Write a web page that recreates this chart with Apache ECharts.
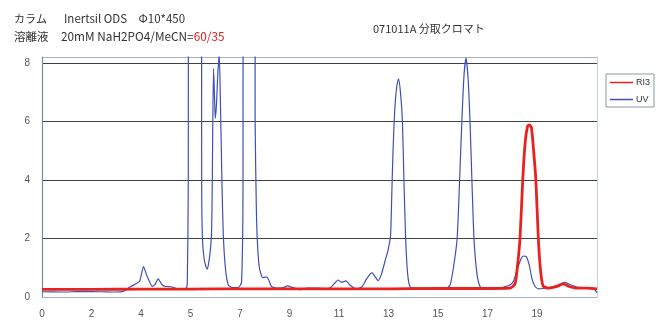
<!DOCTYPE html>
<html>
<head>
<meta charset="utf-8">
<script src="https://cdn.jsdelivr.net/npm/echarts@6/dist/echarts.min.js"></script>
<style>
html,body{margin:0;padding:0;background:#fff;}
#chart{width:664px;height:326px;}
</style>
</head>
<body>
<div id="chart"></div>
<script>
// x positions are in axis units (one unit = half a label step)
var xTickLabels = ["0","2","4","5","7","9","11","13","15","17","19"];
var yTicks = [0, 2, 4, 6, 8];

var uvTime = [0, 0.8, 1.6, 2.4, 3.0, 3.3, 3.56, 3.8, 3.95, 4.10, 4.25, 4.46, 4.58, 4.69, 4.85, 5.0, 5.21, 5.49, 5.82, 5.87,
  5.91, 5.95, 6.40, 6.45, 6.48, 6.55, 6.62, 6.68, 6.74, 6.80, 6.85, 6.88, 6.90, 6.93, 6.97, 7.00, 7.05, 7.10, 7.16, 7.20, 7.24, 7.28, 7.33, 7.42, 7.53, 7.70, 7.92, 8.06,
  8.12, 8.16, 8.56, 8.61, 8.66, 8.70, 8.78, 8.92, 9.07, 9.15, 9.27, 9.5, 9.75, 9.92, 10.1, 10.42, 10.7, 11.1, 11.5, 11.64, 11.8, 11.96, 12.1, 12.28, 12.45, 12.69, 12.93,
  13.1, 13.33, 13.45, 13.58, 13.72, 13.88, 13.98, 14.08, 14.13, 14.18, 14.25, 14.33, 14.40, 14.48, 14.56, 14.62, 14.69, 14.77, 14.87, 15.1, 15.6, 16.0, 16.28, 16.48,
  16.62, 16.77, 16.87, 16.96, 17.05, 17.13, 17.21, 17.29, 17.37, 17.45, 17.57, 17.70, 17.9, 18.22, 18.6, 18.89, 19.05, 19.2, 19.35, 19.45, 19.56, 19.68, 19.8, 19.92,
  20.05, 20.3, 20.7, 20.95, 21.13, 21.35, 21.6, 21.9, 22.2, 22.33, 22.42];
var uvSignal = [0.18, 0.17, 0.19, 0.18, 0.17, 0.2, 0.35, 0.45, 0.55, 1.04, 0.7, 0.36, 0.45, 0.62, 0.42, 0.36, 0.35, 0.28, 0.3, 0.5,
  4, 60, 60, 4, 2.0, 1.3, 1.05, 0.95, 1.2, 1.6, 2.2, 4.0, 6.0, 7.8, 6.8, 6.1, 6.6, 7.6, 8.3, 7.0, 5.2, 3.5, 2.0, 0.9, 0.4, 0.32, 0.32, 0.5,
  4, 60, 60, 6, 3.0, 1.9, 1.0, 0.66, 0.69, 0.6, 0.36, 0.3, 0.32, 0.38, 0.33, 0.25, 0.3, 0.3, 0.29, 0.32, 0.45, 0.58, 0.5, 0.55, 0.4, 0.27, 0.35,
  0.6, 0.83, 0.7, 0.56, 0.8, 1.3, 1.6, 2.1, 3.5, 5.0, 6.4, 7.2, 7.45, 7.0, 6.0, 4.0, 2.0, 0.8, 0.35, 0.3, 0.3, 0.3, 0.27, 0.4,
  1.0, 2.0, 4.0, 6.0, 7.6, 8.16, 7.5, 6.0, 3.9, 2.0, 0.8, 0.35, 0.28, 0.27, 0.33, 0.4, 0.55, 0.95, 1.3, 1.4, 1.38, 1.1, 0.6, 0.36,
  0.28, 0.3, 0.36, 0.45, 0.5, 0.42, 0.34, 0.32, 0.3, 0.25, 0.15];

var riTime = [0, 2, 4, 6, 8, 10, 12, 14, 16, 18, 18.9, 19.11, 19.2, 19.31, 19.42, 19.52, 19.62, 19.69, 19.77, 19.86, 19.95, 20.05, 20.14, 20.24, 20.45, 20.8, 21.05, 21.3, 21.6, 22.0, 22.42];
var riSignal = [0.26, 0.26, 0.27, 0.27, 0.28, 0.28, 0.28, 0.28, 0.29, 0.29, 0.3, 0.45, 1.0, 2.0, 4.0, 5.3, 5.85, 5.88, 5.8, 5.0, 4.0, 2.0, 0.9, 0.38, 0.3, 0.36, 0.45, 0.36, 0.3, 0.3, 0.28];

function pairs(xs, ys) { return xs.map(function (x, i) { return [x, ys[i]]; }); }

var chart = echarts.init(document.getElementById('chart'), null, {renderer: 'canvas'});
var txt = '#333';
var jp = '"Noto Sans CJK JP", "Noto Sans", sans-serif';
chart.setOption({
  backgroundColor: '#ffffff',
  animation: false,
  title: [
    {text: 'カラム', left: 9, top: 8, textStyle: {fontSize: 11, fontWeight: 'normal', color: txt, fontFamily: jp}},
    {text: 'Inertsil ODS　Φ10*450', left: 59, top: 8, textStyle: {fontSize: 11.5, fontWeight: 'normal', color: txt, fontFamily: jp}},
    {text: '溶離液', left: 9, top: 26, textStyle: {fontSize: 11.5, fontWeight: 'normal', color: txt, fontFamily: jp}},
    {text: '20mM NaH2PO4/MeCN={r|60/35}', left: 56, top: 26, textStyle: {fontSize: 11.8, fontWeight: 'normal', color: txt, fontFamily: jp,
      rich: {r: {fontSize: 11.8, color: '#e02020', fontFamily: jp}}}},
    {text: '071011A 分取クロマト', left: 368, top: 18, textStyle: {fontSize: 11, fontWeight: 'normal', color: txt, fontFamily: jp}}
  ],
  legend: {
    orient: 'vertical', left: 606, top: 74,
    data: [{name: 'RI3'}, {name: 'UV'}],
    icon: 'rect', itemWidth: 23, itemHeight: 1.5, itemGap: 8,
    padding: [4, 4, 3, 4],
    borderColor: '#8c9aa3', borderWidth: 1,
    textStyle: {fontSize: 9, color: txt, fontFamily: '"Liberation Sans", sans-serif', padding: [0, 0, 0, -2]}
  },
  grid: {left: 42, right: 67, top: 57, bottom: 29, containLabel: false},
  xAxis: {
    type: 'value', min: 0, max: 22.42, interval: 2,
    axisLine: {show: true, lineStyle: {color: '#a6b3bd', width: 1.2}},
    axisTick: {show: false},
    splitLine: {show: false},
    axisLabel: {
      margin: 12, fontSize: 10, color: '#555', fontFamily: '"Liberation Sans", sans-serif',
      showMaxLabel: false,
      formatter: function (v) { var i = Math.round(v / 2); return i < xTickLabels.length ? xTickLabels[i] : ''; }
    }
  },
  yAxis: [{
    type: 'value', min: 0, max: 8.2, interval: 2,
    axisLine: {show: true, lineStyle: {color: '#7e8e98', width: 1.2}},
    axisTick: {show: false},
    axisLabel: {margin: 12, fontSize: 10, color: '#555', fontFamily: '"Liberation Sans", sans-serif',
      formatter: function (v) { return yTicks.indexOf(v) >= 0 ? String(v) : ''; }},
    splitLine: {show: true, lineStyle: {color: ['#a6b3bd', '#3a4444', '#3a4444', '#3a4444', '#3a4444'], width: 1.1}}
  }, {
    type: 'value', min: 0, max: 8.2, interval: 2, position: 'right',
    axisLine: {show: true, lineStyle: {color: '#c9d2d8', width: 1}},
    axisTick: {show: false}, axisLabel: {show: false}, splitLine: {show: false}
  }],
  series: [
    {name: 'UV', type: 'line', data: pairs(uvTime, uvSignal), showSymbol: false, symbol: 'none', smooth: 0.2, clip: true,
      lineStyle: {color: '#3f50b5', width: 1.2}, itemStyle: {color: '#3f50b5'}, z: 2},
    {name: 'RI3', type: 'line', data: pairs(riTime, riSignal), showSymbol: false, symbol: 'none', smooth: 0.2, clip: true,
      lineStyle: {color: '#e8231f', width: 2.8}, itemStyle: {color: '#e8231f'}, z: 3}
  ]
});
</script>
</body>
</html>
